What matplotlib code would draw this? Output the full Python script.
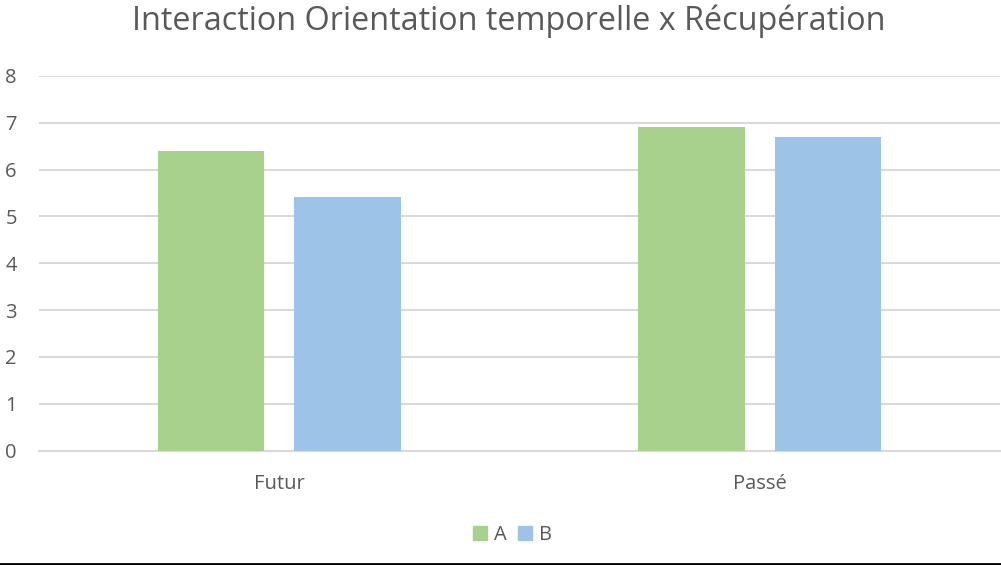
import matplotlib
matplotlib.use("Agg")
import matplotlib.pyplot as plt
from matplotlib.patches import Patch
from matplotlib.lines import Line2D
import numpy as np

plt.rcParams["font.family"] = ["Open Sans", "DejaVu Sans"]

categories = ["Futur", "Passé"]
series_names = ["A", "B"]
values_a = [6.4, 6.9]
values_b = [5.42, 6.7]

GREEN = "#A9D18E"
BLUE = "#9DC3E6"
TEXT = "#595959"
GRID = "#D9D9D9"

fig = plt.figure(figsize=(10.01, 5.65), dpi=100)
ax = fig.add_axes([39 / 1001, 1 - 450.5 / 565, 961 / 1001, (450.5 - 76) / 565])

x = np.arange(len(categories))
width = 0.222
ax.bar(x - 0.142, values_a, width, color=GREEN, zorder=3, label=series_names[0])
ax.bar(x + 0.142, values_b, width, color=BLUE, zorder=3, label=series_names[1])

ax.set_xlim(-0.5, 1.5)
ax.set_ylim(0, 8)
ax.set_yticks(range(0, 9))
ax.yaxis.grid(True, color=GRID, linewidth=1.5, zorder=0)
ax.set_axisbelow(True)
for side in ("top", "right", "left"):
    ax.spines[side].set_visible(False)
ax.spines["bottom"].set_color(GRID)
ax.spines["bottom"].set_linewidth(1.5)
ax.set_xticks(x)
ax.set_xticklabels(categories)
ax.tick_params(axis="both", length=0, colors=TEXT, labelsize=14.5)
ax.tick_params(axis="x", pad=17)
ax.tick_params(axis="y", pad=16)

fig.text(0.508, 1 - 30 / 565, "Interaction Orientation temporelle x Récupération",
         ha="center", va="baseline", fontsize=23.3, color=TEXT)

handles = [Patch(color=GREEN, label="A"), Patch(color=BLUE, label="B")]
fig.legend(handles=handles, loc="center", bbox_to_anchor=(0.512, 1 - 535 / 565),
           ncol=2, frameon=False, fontsize=14.5, labelcolor=TEXT,
           handlelength=0.65, handleheight=0.65, handletextpad=0.35, columnspacing=0.6)

fig.add_artist(Line2D([0, 1], [1 - 563.5 / 565] * 2, color="black", linewidth=2,
                      transform=fig.transFigure))

fig.savefig("out.png", dpi=100)
